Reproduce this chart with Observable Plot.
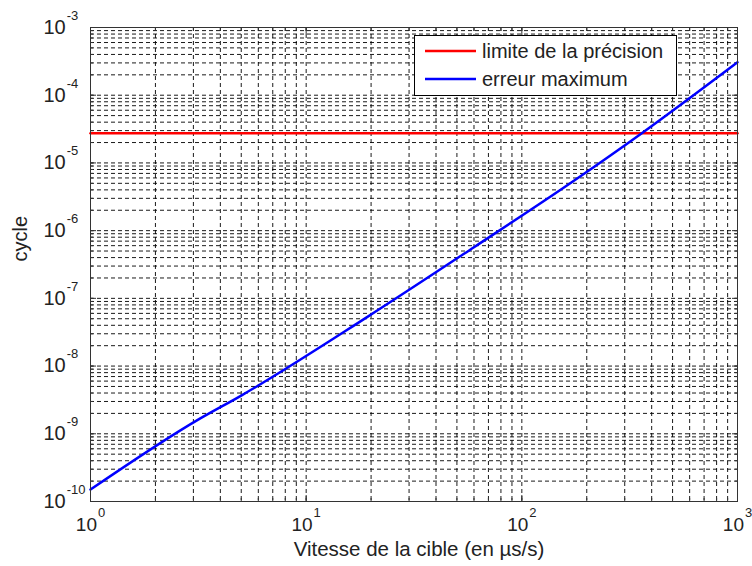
<!DOCTYPE html>
<html><head><meta charset="utf-8">
<script src="https://cdn.jsdelivr.net/npm/d3@7"></script>
<script src="https://cdn.jsdelivr.net/npm/@observablehq/plot@0.6"></script>
<style>body{margin:0;background:#fff}#chart svg{display:block}</style>
</head><body><div id="chart"></div>
<script>
// ---- data ----
const speed = [1, 3.2, 5, 19, 60, 175, 360, 1000];
const maxError = [1.5e-10, 1.66e-9, 3.67e-9, 5.2e-8, 5.7e-7, 5.5e-6, 2.75e-5, 3.07e-4];
const limitSpeed = [1, 1000];
const precisionLimit = [2.75e-5, 2.75e-5];
const xTicks = [1, 10, 100, 1000];
const yTicks = [1e-10, 1e-9, 1e-8, 1e-7, 1e-6, 1e-5, 1e-4, 1e-3];
const seriesNames = ["limite de la précision", "erreur maximum"];
const seriesColors = ["#ff0000", "#0000ff"];
const xLabel = "Vitesse de la cible (en µs/s)";
const yLabel = "cycle";

const xMinor = d3.scaleLog().domain([1, 1000]).ticks();
const yMinor = d3.scaleLog().domain([1e-10, 1e-3]).ticks();
const expFmt = d => "10^" + Math.round(Math.log10(d));
const gridStyle = {stroke: "#000", strokeOpacity: 1, strokeDasharray: "4,3", strokeWidth: 0.9};
const blank = () => "";
const FONT = "'Liberation Sans', Arial, sans-serif";

const chart = Plot.plot({
  width: 752, height: 566,
  marginLeft: 90, marginRight: 15, marginTop: 27, marginBottom: 65,
  style: {fontFamily: FONT, fontSize: "19px", color: "#222", background: "#fff"},
  x: {type: "log", domain: [1, 1000], label: null},
  y: {type: "log", domain: [1e-10, 1e-3], label: null},
  marks: [
    Plot.gridX(xMinor, gridStyle),
    Plot.gridY(yMinor, gridStyle),
    Plot.axisX(xMinor, {anchor: "bottom", tickSize: -3, tickFormat: blank, label: null, stroke: "#333"}),
    Plot.axisX(xMinor, {anchor: "top", tickSize: -3, tickFormat: blank, label: null, stroke: "#333"}),
    Plot.axisY(yMinor, {anchor: "left", tickSize: -3, tickFormat: blank, label: null, stroke: "#333"}),
    Plot.axisY(yMinor, {anchor: "right", tickSize: -3, tickFormat: blank, label: null, stroke: "#333"}),
    Plot.axisX(xTicks, {anchor: "bottom", tickSize: -6, tickFormat: blank, label: null, stroke: "#333"}),
    Plot.axisX(xTicks, {anchor: "top", tickSize: -6, tickFormat: blank, label: null, stroke: "#333"}),
    Plot.axisY(yTicks, {anchor: "left", tickSize: -6, tickFormat: blank, label: null, stroke: "#333"}),
    Plot.axisY(yTicks, {anchor: "right", tickSize: -6, tickFormat: blank, label: null, stroke: "#333"}),
    Plot.axisX(xTicks, {anchor: "bottom", tickSize: 0, tickPadding: 16, tickFormat: expFmt, label: null, fill: "#222", fontSize: 19}),
    Plot.axisY(yTicks, {anchor: "left", tickSize: 0, tickPadding: 47, textAnchor: "start", tickFormat: expFmt, label: null, fill: "#222", fontSize: 20}),
    Plot.line(limitSpeed.map((x, i) => ({x, y: precisionLimit[i]})), {x: "x", y: "y", stroke: seriesColors[0], strokeWidth: 2.5}),
    Plot.line(speed.map((x, i) => ({x, y: maxError[i]})), {x: "x", y: "y", stroke: seriesColors[1], strokeWidth: 2.5, curve: "monotone-x"}),
    Plot.frame({stroke: "#333", strokeWidth: 1}),
    Plot.text([xLabel], {frameAnchor: "bottom", dx: 5, dy: 54, fontSize: 20.5, fill: "#222"}),
    Plot.text([yLabel], {frameAnchor: "left", dx: -70, dy: -3, rotate: -90, fontSize: 20, fill: "#222"})
  ]
});

// superscript exponents on tick labels
d3.select(chart).selectAll("text").each(function () {
  const t = this.textContent;
  if (!t.includes("^")) return;
  const [base, exp] = t.split("^");
  const sel = d3.select(this);
  sel.text(null);
  sel.append("tspan").text(base);
  sel.append("tspan").attr("font-size", 13).attr("dy", -14).attr("dx", 1).text(exp);
});

// legend box
const svg = d3.select(chart);
const lg = svg.append("g").attr("font-family", FONT).attr("font-size", 20).attr("text-anchor", "start");
lg.append("rect").attr("x", 414.5).attr("y", 35.5).attr("width", 262).attr("height", 60)
  .attr("fill", "#fff").attr("stroke", "#000");
seriesNames.forEach((name, i) => {
  const y = 51 + i * 28;
  lg.append("line").attr("x1", 425).attr("x2", 476).attr("y1", y).attr("y2", y)
    .attr("stroke", seriesColors[i]).attr("stroke-width", 2.5);
  lg.append("text").attr("x", 482).attr("y", y).attr("dy", "0.35em").attr("fill", "#222").text(name);
});

document.getElementById("chart").appendChild(chart);
</script>
</body></html>
